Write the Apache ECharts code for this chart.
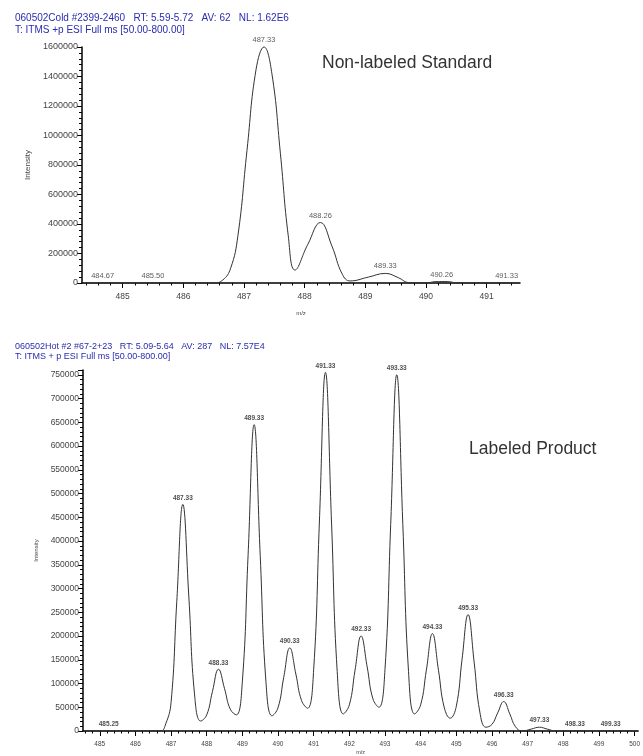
<!DOCTYPE html>
<html><head><meta charset="utf-8">
<script src="https://cdn.jsdelivr.net/npm/echarts@6/dist/echarts.min.js"></script>
<style>html,body{margin:0;padding:0;background:#fff}#c{width:643px;height:756px}</style>
</head><body><div id="c"></div>
<script>
// ---- Top spectrum: Non-labeled Standard ----
const topMz  = [484.33, 486.5, 486.65, 486.78, 486.9, 487.05, 487.2, 487.33, 487.46, 487.6, 487.73, 487.84, 488.05, 488.26, 488.45, 488.62, 488.75, 489.05, 489.33, 489.55, 489.72, 490.0, 490.15, 490.26, 490.4, 490.5, 491.55];
const topInt = [0, 0, 20000, 100000, 320000, 900000, 1450000, 1600000, 1420000, 880000, 320000, 88000, 260000, 410000, 250000, 60000, 14000, 40000, 65000, 35000, 2000, 0, 9000, 10000, 8000, 0, 0];
const topPeakMz     = [484.67, 485.50, 487.33, 488.26, 489.33, 490.26, 491.33];
const topPeakInt    = [0, 0, 1600000, 410000, 65000, 10000, 0];
const topPeakLabels = ['484.67', '485.50', '487.33', '488.26', '489.33', '490.26', '491.33'];

// ---- Bottom spectrum: Labeled Product ----
const botMz  = [484.53, 486.7, 486.85, 487.0, 487.16, 487.33, 487.5, 487.66, 487.83,
                488.0, 488.16, 488.33, 488.5, 488.66, 488.83,
                489.0, 489.16, 489.33, 489.5, 489.66, 489.83,
                490.0, 490.16, 490.33, 490.5, 490.66, 490.83,
                491.0, 491.16, 491.33, 491.5, 491.66, 491.83,
                492.0, 492.16, 492.33, 492.5, 492.66, 492.83,
                493.0, 493.16, 493.33, 493.5, 493.66, 493.83,
                494.0, 494.16, 494.33, 494.5, 494.66, 494.83,
                495.0, 495.16, 495.33, 495.5, 495.66, 495.83,
                496.0, 496.16, 496.33, 496.5, 496.66, 496.85,
                497.1, 497.33, 497.55, 497.8, 500.1];
const botInt = [0, 0, 15000, 60000, 272000, 477000, 280000, 76000, 21000,
                34000, 83000, 130000, 89000, 46000, 34000,
                105000, 370000, 645000, 370000, 105000, 32000,
                49000, 113000, 175000, 120000, 64000, 48000,
                130000, 440000, 755000, 440000, 125000, 36000,
                55000, 128000, 200000, 135000, 68000, 50000,
                130000, 435000, 750000, 435000, 125000, 36000,
                55000, 128000, 205000, 128000, 50000, 27000,
                52000, 150000, 245000, 145000, 40000, 8000,
                14000, 38000, 62000, 36000, 9000, 0,
                4000, 8000, 4000, 0, 0];
const botPeakMz     = [485.25, 487.33, 488.33, 489.33, 490.33, 491.33, 492.33, 493.33, 494.33, 495.33, 496.33, 497.33, 498.33, 499.33];
const botPeakInt    = [0, 477000, 130000, 645000, 175000, 755000, 200000, 750000, 205000, 245000, 62000, 8000, 0, 0];
const botPeakLabels = ['485.25', '487.33', '488.33', '489.33', '490.33', '491.33', '492.33', '493.33', '494.33', '495.33', '496.33', '497.33', '498.33', '499.33'];

const topXTicks = [485, 486, 487, 488, 489, 490, 491];
const botXTicks = [485, 486, 487, 488, 489, 490, 491, 492, 493, 494, 495, 496, 497, 498, 499, 500];

const FONT = 'Liberation Sans';
const pairs = (xs, ys) => xs.map((x, i) => [x, ys[i]]);
function minorTicks(min, max, step) {
  const out = [];
  for (let v = Math.ceil(min / step) * step; v <= max + 1e-9; v += step) {
    const r = Math.round(v * 1000) / 1000;
    if (Math.abs(r - Math.round(r)) > 1e-6) out.push(r);
  }
  return out;
}

const chart = echarts.init(document.getElementById('c'), null, {renderer: 'canvas'});

function xAxisMajor(gi, min, max, ticks, fs, margin, gap, nfs) {
  return {
    type: 'value', gridIndex: gi, min: min, max: max, position: 'bottom',
    name: 'm/z', nameLocation: 'middle', nameGap: gap,
    nameTextStyle: {fontFamily: FONT, fontSize: nfs, color: '#444'},
    axisLine: {onZero: false, lineStyle: {color: '#000', width: 1.5}},
    axisTick: {show: true, length: 5, customValues: ticks, lineStyle: {color: '#000'}},
    axisLabel: {fontFamily: FONT, fontSize: fs, color: '#444', margin: margin, customValues: ticks,
      formatter: v => String(Math.round(v))},
    splitLine: {show: false}
  };
}
function xAxisMinor(gi, min, max, step) {
  return {
    type: 'value', gridIndex: gi, min: min, max: max, position: 'bottom',
    axisLine: {show: false, onZero: false},
    axisTick: {show: true, length: 2.5, customValues: minorTicks(min, max, step), lineStyle: {color: '#000'}},
    axisLabel: {show: false}, splitLine: {show: false}
  };
}
function yAxisCfg(gi, max, interval, fs, gap, nfs) {
  return {
    type: 'value', gridIndex: gi, min: 0, max: max, interval: interval,
    name: 'Intensity', nameLocation: 'middle', nameGap: gap, nameRotate: 90,
    nameTextStyle: {fontFamily: FONT, fontSize: nfs, color: '#444'},
    axisLine: {show: true, lineStyle: {color: '#000', width: 1.5}},
    axisTick: {show: true, length: 5, lineStyle: {color: '#000'}},
    minorTick: {show: true, splitNumber: 5, length: 3, lineStyle: {color: '#000'}},
    axisLabel: {fontFamily: FONT, fontSize: fs, color: '#444', margin: 4,
      showMaxLabel: gi === 0, formatter: v => (v % interval === 0 ? String(v) : '')},
    splitLine: {show: false}
  };
}

chart.setOption({
  animation: false,
  backgroundColor: '#fff',
  title: [
    {text: '060502Cold #2399-2460   RT: 5.59-5.72   AV: 62   NL: 1.62E6\nT: ITMS +p ESI Full ms [50.00-800.00]',
     left: 10, top: 7, textStyle: {fontFamily: FONT, fontSize: 10, fontWeight: 'normal', color: '#2b2bb0', lineHeight: 12}},
    {text: 'Non-labeled Standard', left: 317, top: 49,
     textStyle: {fontFamily: FONT, fontSize: 17.5, fontWeight: 'normal', color: '#333'}},
    {text: '060502Hot #2 #67-2+23   RT: 5.09-5.64   AV: 287   NL: 7.57E4\nT: ITMS + p ESI Full ms [50.00-800.00]',
     left: 10, top: 337, textStyle: {fontFamily: FONT, fontSize: 9, fontWeight: 'normal', color: '#2b2bb0', lineHeight: 10}},
    {text: 'Labeled Product', left: 464, top: 435,
     textStyle: {fontFamily: FONT, fontSize: 17.5, fontWeight: 'normal', color: '#333'}}
  ],
  grid: [
    {left: 82, right: 123, top: 47, bottom: 473, containLabel: false},
    {left: 83, right: 3, top: 370, bottom: 25, containLabel: false}
  ],
  xAxis: [
    xAxisMajor(0, 484.33, 491.55, topXTicks, 8.5, 9, 27, 6),
    xAxisMajor(1, 484.53, 500.1, botXTicks, 6.5, 10, 18, 5.5),
    xAxisMinor(0, 484.33, 491.55, 0.2),
    xAxisMinor(1, 484.53, 500.1, 0.2)
  ],
  yAxis: [yAxisCfg(0, 1600000, 200000, 9, 34, 8), yAxisCfg(1, 760000, 50000, 8.5, 31, 6)],
  series: [
    {type: 'line', xAxisIndex: 0, yAxisIndex: 0, data: pairs(topMz, topInt),
     smooth: 0.45, showSymbol: false, clip: false,
     lineStyle: {color: '#333', width: 1}},
    {type: 'scatter', xAxisIndex: 0, yAxisIndex: 0, data: pairs(topPeakMz, topPeakInt),
     symbolSize: 0, clip: false, silent: true,
     label: {show: true, position: 'top', distance: 3, fontFamily: FONT, fontSize: 7.5, color: '#333',
       formatter: p => topPeakLabels[p.dataIndex]}},
    {type: 'line', xAxisIndex: 1, yAxisIndex: 1, data: pairs(botMz, botInt),
     smooth: 0.45, showSymbol: false, clip: false,
     lineStyle: {color: '#333', width: 1}},
    {type: 'scatter', xAxisIndex: 1, yAxisIndex: 1, data: pairs(botPeakMz, botPeakInt),
     symbolSize: 0, clip: false, silent: true,
     label: {show: true, position: 'top', distance: 3, fontFamily: FONT, fontSize: 6.5, fontWeight: 'bold', color: '#222',
       formatter: p => botPeakLabels[p.dataIndex]}}
  ]
});
</script>
</body></html>
